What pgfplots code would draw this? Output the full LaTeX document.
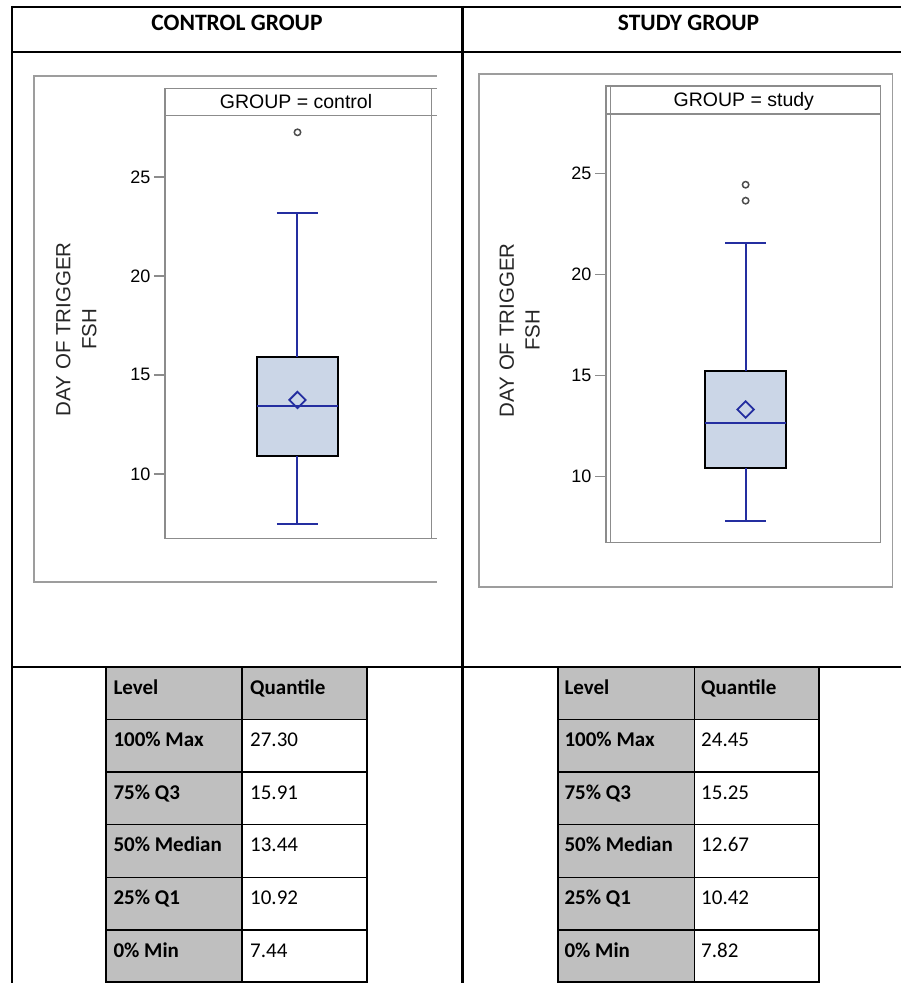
\documentclass[border=0pt]{standalone}
\usepackage{pgfplots}
\pgfplotsset{compat=1.18}
\usepackage{fontspec}
\setmainfont{Liberation Sans}
\newfontfamily\carlito{Carlito}
\definecolor{sasblue}{RGB}{36,46,160}
\definecolor{sasfill}{RGB}{203,214,231}
\definecolor{framegray}{RGB}{140,140,140}
\definecolor{cellgray}{RGB}{191,191,191}
\newcommand{\tbf}{\carlito\bfseries\fontsize{21}{24}\selectfont}
\newcommand{\tnf}{\carlito\fontsize{21}{24}\selectfont}
\pgfplotsset{
  sasbox/.style={
    scale only axis, anchor=south west,
    xmin=0, xmax=1,
    xtick=\empty, ytick={10,15,20,25}, ytick pos=left,
    tick align=outside, major tick length=11pt,
    axis line style={framegray, line width=1.5pt},
    every tick/.style={framegray, line width=1.4pt},
    yticklabel style={font=\fontsize{18}{20}\selectfont, text=black},
    /pgf/number format/assume math mode=true,
    clip=false,
    ylabel={DAY OF TRIGGER\\FSH},
  },
  boxline/.style={draw=sasblue, line width=2pt, mark=none},
  boxrect/.style={draw=black, fill=sasfill, line width=2pt, mark=none},
  meanmark/.style={only marks, mark=square, mark size=5.8pt, mark options={rotate=45, draw=sasblue, line width=1.8pt, fill=none}},
  outmark/.style={only marks, mark=o, mark size=3.2pt, mark options={draw=black!70, line width=1.5pt}},
}
\begin{document}
\begin{tikzpicture}[x=1pt,y=1pt]
\path[use as bounding box, fill=white] (0,0) rectangle (901,983);

% ---------- table cell fills ----------
\fill[cellgray] (106,1) rectangle (242,263.7);
\fill[cellgray] (106,263.7) rectangle (367,315.7);
\fill[cellgray] (558.3,1) rectangle (694.3,263.7);
\fill[cellgray] (558.3,263.7) rectangle (819,315.7);

% table grid lines
\foreach \yy in {263.7,211,158.7,105.7,53,1}{
  \draw[black, line width=1.2pt] (106,\yy) -- (367,\yy);
  \draw[black, line width=1.2pt] (558.3,\yy) -- (819,\yy);
}
\draw[black, line width=1.2pt] (242,1) -- (242,315.7);
\draw[black, line width=1.2pt] (694.3,1) -- (694.3,315.7);
\draw[black, line width=2.2pt] (106,0) -- (106,315.7);
\draw[black, line width=2.2pt] (367,0) -- (367,315.7);
\draw[black, line width=2.2pt] (558.3,0) -- (558.3,315.7);
\draw[black, line width=2.2pt] (819,0) -- (819,315.7);

% table text
\foreach \xa/\xb in {113.3/250, 564.3/701}{
  \node[anchor=base west, inner sep=0] at (\xa,288.4) {\tbf Level};
  \node[anchor=base west, inner sep=0] at (\xb,288.4) {\tbf Quantile};
  \node[anchor=base west, inner sep=0] at (\xa,236.4) {\tbf 100\% Max};
  \node[anchor=base west, inner sep=0] at (\xa,183.7) {\tbf 75\% Q3};
  \node[anchor=base west, inner sep=0] at (\xa,131.4) {\tbf 50\% Median};
  \node[anchor=base west, inner sep=0] at (\xa,78.4) {\tbf 25\% Q1};
  \node[anchor=base west, inner sep=0] at (\xa,25.7) {\tbf 0\% Min};
}
\node[anchor=base west, inner sep=0] at (250,236.4) {\tnf 27.30};
\node[anchor=base west, inner sep=0] at (250,183.7) {\tnf 15.91};
\node[anchor=base west, inner sep=0] at (250,131.4) {\tnf 13.44};
\node[anchor=base west, inner sep=0] at (250,78.4) {\tnf 10.92};
\node[anchor=base west, inner sep=0] at (250,25.7) {\tnf 7.44};
\node[anchor=base west, inner sep=0] at (701,236.4) {\tnf 24.45};
\node[anchor=base west, inner sep=0] at (701,183.7) {\tnf 15.25};
\node[anchor=base west, inner sep=0] at (701,131.4) {\tnf 12.67};
\node[anchor=base west, inner sep=0] at (701,78.4) {\tnf 10.42};
\node[anchor=base west, inner sep=0] at (701,25.7) {\tnf 7.82};

% ---------- outer black frame ----------
\draw[black, line width=2pt] (12,976) -- (901,976);
\draw[black, line width=2pt] (12,977) -- (12,0);
\draw[black, line width=2.5pt] (462.7,977) -- (462.7,0);
\draw[black, line width=1.8pt] (12,931.3) -- (901,931.3);
\draw[black, line width=2pt] (12,316) -- (901,316);

\node[anchor=base, inner sep=0] at (237,952.3) {\carlito\bfseries\fontsize{23.5}{26}\selectfont CONTROL GROUP};
\node[anchor=base, inner sep=0] at (688.5,952.3) {\carlito\bfseries\fontsize{23.5}{26}\selectfont STUDY GROUP};

% ---------- gray panel frames ----------
\draw[framegray!85, line width=1.6pt] (436.7,907) -- (34,907) -- (34,400.7) -- (436.7,400.7);
\draw[framegray!85, line width=1.6pt] (479,396) rectangle (892.3,908.7);

% control header strip
\draw[framegray, line width=1.5pt] (165,894.7) -- (436.7,894.7);
\draw[framegray, line width=1.5pt] (165,867.3) -- (436.7,867.3);
\draw[framegray, line width=1.5pt] (165,894.7) -- (165,867.3);
\draw[framegray, line width=1.5pt] (431.7,894.7) -- (431.7,867.3);
\draw[framegray, line width=1.5pt] (431.7,444.5) -- (436.7,444.5);
\node[anchor=center, inner sep=0] at (296,881) {\fontsize{19.5}{22}\selectfont GROUP = control};

% study header strip
\draw[framegray, line width=1.5pt] (606,897) rectangle (880.3,869);
\draw[framegray, line width=1.5pt] (610.5,897) -- (610.5,440.6);
\node[anchor=center, inner sep=0] at (743.8,882) {\fontsize{19.5}{22}\selectfont GROUP = study};

% ---------- control box plot ----------
\begin{axis}[sasbox,
  at={(165pt,444.5pt)}, width=266.7pt, height=422.8pt,
  ymin=6.733, ymax=28.09,
  every axis y label/.style={at={(axis description cs:-0.3326,0.495)}, rotate=90, anchor=center, align=center, font=\fontsize{20.5}{25.8}\selectfont, text=black!85},
]
% box: Q1 = 10.92, Q3 = 15.91
\addplot[boxrect] coordinates {(0.3468,10.92) (0.6468,10.92) (0.6468,15.91) (0.3468,15.91)} -- cycle;
% whiskers to 23.15 and 7.44
\addplot[boxline] coordinates {(0.4968,15.91) (0.4968,23.15)};
\addplot[boxline] coordinates {(0.4968,7.44) (0.4968,10.92)};
\addplot[boxline] coordinates {(0.4198,23.15) (0.5738,23.15)};
\addplot[boxline] coordinates {(0.4198,7.44) (0.5738,7.44)};
% median 13.44
\addplot[boxline] coordinates {(0.3468,13.44) (0.6468,13.44)};
% mean
\addplot[meanmark] coordinates {(0.4968,13.73)};
% outlier
\addplot[outmark] coordinates {(0.4968,27.25)};
\end{axis}

% ---------- study box plot ----------
\begin{axis}[sasbox,
  at={(606pt,440.6pt)}, width=274.3pt, height=428.4pt,
  ymin=6.754, ymax=27.95,
  every axis y label/.style={at={(axis description cs:-0.3143,0.495)}, rotate=90, anchor=center, align=center, font=\fontsize{20.5}{25.8}\selectfont, text=black!85},
]
% box: Q1 = 10.42, Q3 = 15.25
\addplot[boxrect] coordinates {(0.360,10.42) (0.658,10.42) (0.658,15.25) (0.360,15.25)} -- cycle;
% whiskers to 21.55 and 7.82
\addplot[boxline] coordinates {(0.509,15.25) (0.509,21.55)};
\addplot[boxline] coordinates {(0.509,7.82) (0.509,10.42)};
\addplot[boxline] coordinates {(0.434,21.55) (0.584,21.55)};
\addplot[boxline] coordinates {(0.434,7.82) (0.584,7.82)};
% median 12.67
\addplot[boxline] coordinates {(0.360,12.67) (0.658,12.67)};
% mean
\addplot[meanmark] coordinates {(0.509,13.33)};
% outliers
\addplot[outmark] coordinates {(0.509,24.45) (0.509,23.66)};
\end{axis}
\end{tikzpicture}
\end{document}
